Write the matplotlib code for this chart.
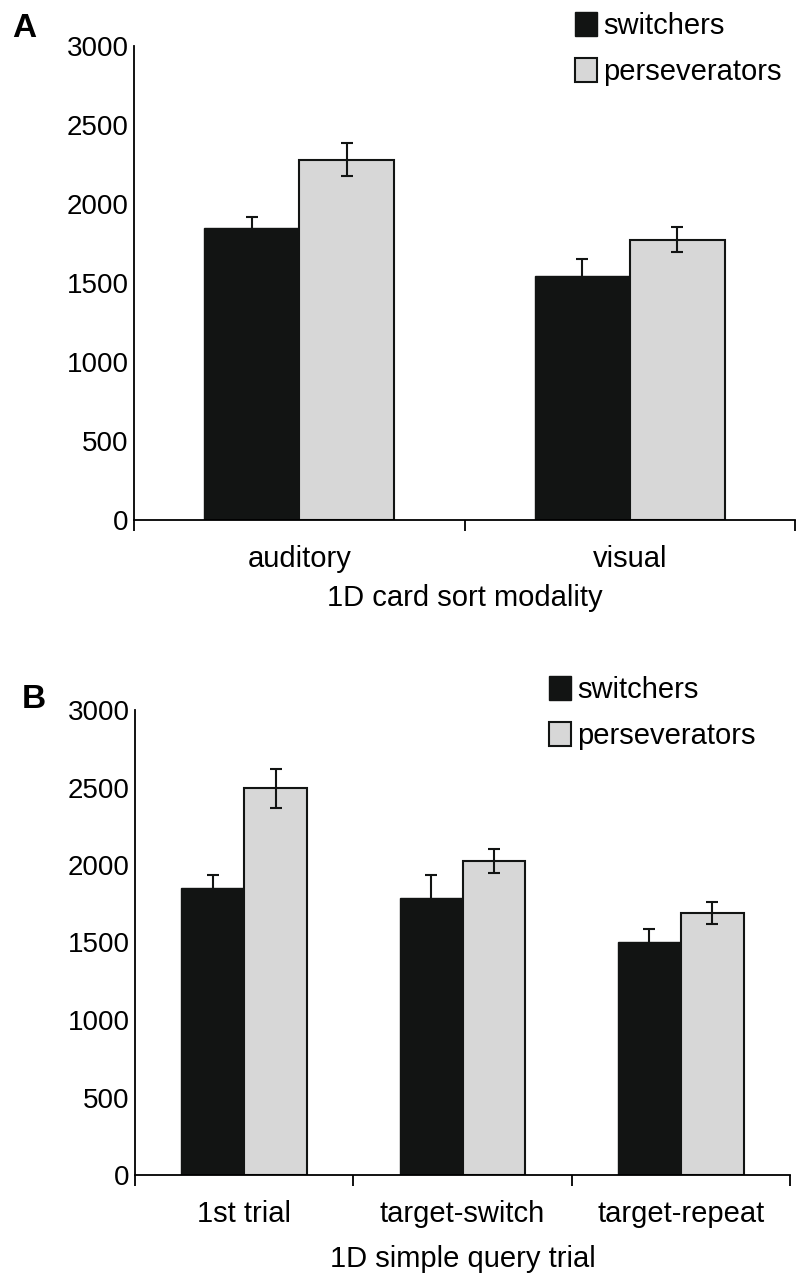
import matplotlib
matplotlib.use('Agg')
import matplotlib.pyplot as plt
import numpy as np

plt.rcParams['font.family'] = ['Liberation Sans', 'DejaVu Sans']

# Panel A data
a_categories = ['auditory', 'visual']
a_switchers = [1848, 1544]
a_switchers_err = [70, 108]
a_persev = [2280, 1775]
a_persev_err = [105, 78]

# Panel B data
b_categories = ['1st trial', 'target-switch', 'target-repeat']
b_switchers = [1850, 1785, 1505]
b_switchers_err = [85, 150, 80]
b_persev = [2495, 2025, 1690]
b_persev_err = [125, 77, 72]

y_ticks = [0, 500, 1000, 1500, 2000, 2500, 3000]
series_names = ['switchers', 'perseverators']

BLACK = '#121413'
GRAY = '#d7d7d7'
FS = 21      # category / axis label / legend text
FS_Y = 20    # y tick labels


def draw_panel(ax, categories, sw, sw_err, pv, pv_err, xlabel, xlabel_pad):
    n = len(categories)
    x = np.arange(n) + 0.5
    w = 0.288
    b1 = ax.bar(x - w / 2, sw, w, color=BLACK, edgecolor=BLACK, linewidth=1.0,
                label=series_names[0], zorder=2)
    b2 = ax.bar(x + w / 2, pv, w, color=GRAY, edgecolor=BLACK, linewidth=1.5,
                label=series_names[1], zorder=2)
    ax.errorbar(x - w / 2, sw, yerr=sw_err, fmt='none', ecolor=BLACK,
                elinewidth=1.5, capsize=4.5, capthick=1.5, zorder=3)
    ax.errorbar(x + w / 2, pv, yerr=pv_err, fmt='none', ecolor=BLACK,
                elinewidth=1.5, capsize=4.5, capthick=1.5, zorder=3)

    ax.set_xlim(0, n)
    ax.set_ylim(0, 3000)
    ax.set_yticks(y_ticks)
    ax.tick_params(axis='y', length=0, labelsize=FS_Y, pad=4)
    # boundary ticks (major) and centred labels (minor)
    ax.set_xticks(np.arange(n + 1))
    ax.set_xticklabels([])
    ax.tick_params(axis='x', which='major', length=8, width=1.3, direction='out')
    ax.set_xticks(x, minor=True)
    ax.set_xticklabels(categories, minor=True)
    ax.tick_params(axis='x', which='minor', length=0, labelsize=FS, pad=18)
    ax.set_xlabel(xlabel, fontsize=FS, labelpad=xlabel_pad)

    for s in ['top', 'right']:
        ax.spines[s].set_visible(False)
    ax.spines['left'].set_linewidth(1.3)
    ax.spines['bottom'].set_linewidth(1.3)
    return b1, b2


def add_legend(ax, handles, x_px, y_px):
    ax.legend(handles=handles, loc='upper left',
              bbox_to_anchor=(x_px / 798, 1 - y_px / 1285),
              bbox_transform=fig.transFigure, frameon=False, fontsize=FS,
              handlelength=0.76, handleheight=0.9, handletextpad=0.2,
              labelspacing=0.62, borderaxespad=0, borderpad=0)


fig = plt.figure(figsize=(7.98, 12.85), dpi=100)

axA = fig.add_axes([134 / 798, 1 - 520 / 1285, 661 / 798, 474 / 1285])
hA = draw_panel(axA, a_categories, a_switchers, a_switchers_err,
                a_persev, a_persev_err, '1D card sort modality', 8)
add_legend(axA, hA, 575, 12)

axB = fig.add_axes([135 / 798, 1 - 1175 / 1285, 655 / 798, 465 / 1285])
hB = draw_panel(axB, b_categories, b_switchers, b_switchers_err,
                b_persev, b_persev_err, '1D simple query trial', 12)
add_legend(axB, hB, 549, 676)

fig.text(12 / 798, 1 - 13 / 1285, 'A', fontsize=24, fontweight='bold', va='top')
fig.text(22 / 798, 1 - 684 / 1285, 'B', fontsize=24, fontweight='bold', va='top')

fig.savefig('out.png', dpi=100)
